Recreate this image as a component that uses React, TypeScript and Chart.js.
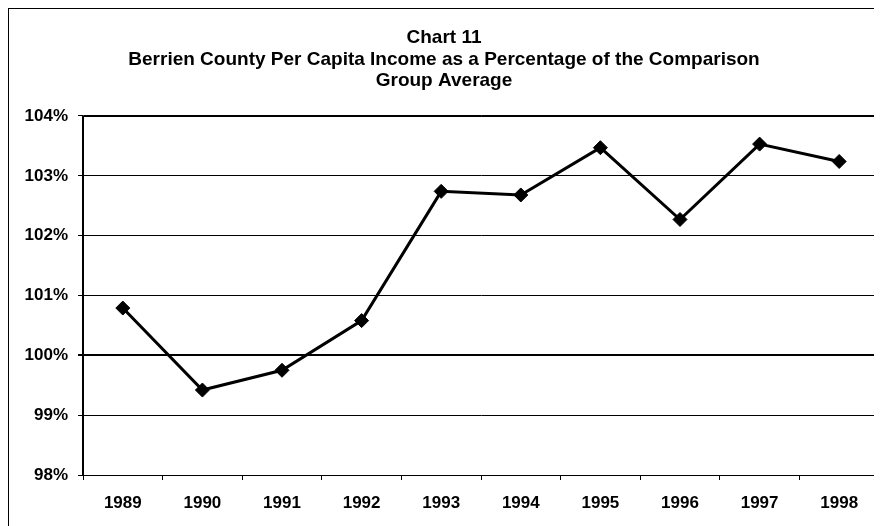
import React, { useEffect, useRef } from "react";
import { Chart, registerables } from "chart.js";

Chart.register(...registerables);

const years = ["1989", "1990", "1991", "1992", "1993", "1994", "1995", "1996", "1997", "1998"];
const percentOfAverage = [100.79, 99.42, 99.75, 100.58, 102.74, 102.68, 103.47, 102.27, 103.53, 103.24];
const titleLines = [
  "Chart 11",
  "Berrien County Per Capita Income as a Percentage of the Comparison",
  "Group Average",
];
const yMin = 98;
const yMax = 104;

const FONT = "'Liberation Sans', Arial, Helvetica, sans-serif";

const framePlugin = {
  id: "frame",
  afterDraw(chart: any) {
    const { ctx, chartArea } = chart;
    ctx.save();
    ctx.strokeStyle = "#000";
    ctx.lineWidth = 1;
    ctx.strokeRect(
      Math.round(chartArea.left) + 0.5,
      Math.round(chartArea.top) + 0.5,
      Math.round(chartArea.right - chartArea.left) - 1,
      Math.round(chartArea.bottom - chartArea.top)
    );
    ctx.restore();
  },
};

export default function App() {
  const canvasRef = useRef<HTMLCanvasElement | null>(null);

  useEffect(() => {
    document.documentElement.style.overflow = "hidden";
    const canvas = canvasRef.current;
    if (!canvas) return;
    const chart = new Chart(canvas, {
      type: "line",
      data: {
        labels: years,
        datasets: [
          {
            data: percentOfAverage,
            borderColor: "#000",
            backgroundColor: "#000",
            borderWidth: 3,
            pointStyle: "rectRot",
            pointRadius: 7,
            pointBorderWidth: 1,
            pointBackgroundColor: "#000",
            pointBorderColor: "#000",
            tension: 0,
          },
        ],
      },
      options: {
        animation: false,
        responsive: true,
        maintainAspectRatio: false,
        layout: { padding: { left: 0, right: 10, top: 0, bottom: 0 } },
        plugins: {
          legend: { display: false },
          tooltip: { enabled: false },
          title: {
            display: true,
            text: titleLines,
            color: "#000",
            font: { family: FONT, size: 19, weight: "bold", lineHeight: 1.14 },
            padding: { top: 18, bottom: 24 },
          },
        },
        scales: {
          x: {
            type: "category",
            offset: true,
            afterFit: (scale: any) => {
              scale.height = 64;
            },
            grid: {
              offset: true,
              drawOnChartArea: false,
              drawTicks: true,
              tickLength: 5,
              color: "#000",
              lineWidth: 1,
            },
            border: { display: true, color: "#000", width: 1 },
            ticks: {
              color: "#000",
              padding: 13,
              maxRotation: 0,
              font: { family: FONT, size: 17, weight: "bold" },
            },
          },
          y: {
            min: yMin,
            max: yMax,
            afterFit: (scale: any) => {
              scale.width = 74;
            },
            grid: {
              color: "#000",
              lineWidth: (ctx: any) => (ctx.tick && ctx.tick.value === 100 ? 2 : 1),
              drawTicks: true,
              tickLength: 5,
            },
            border: { display: true, color: "#000", width: 1.5 },
            ticks: {
              stepSize: 1,
              color: "#000",
              padding: 10,
              font: { family: FONT, size: 17, weight: "bold" },
              callback: (v: any) => `${v}%`,
            },
          },
        },
      },
      plugins: [framePlugin],
    });
    return () => chart.destroy();
  }, []);

  return (
    <div
      style={{
        borderTop: "1px solid #000",
        borderLeft: "1px solid #000",
        width: 873,
        height: 517,
        overflow: "hidden",
        background: "#fff",
      }}
    >
      <div style={{ position: "relative", width: 880, height: 530 }}>
        <canvas ref={canvasRef} />
      </div>
    </div>
  );
}
